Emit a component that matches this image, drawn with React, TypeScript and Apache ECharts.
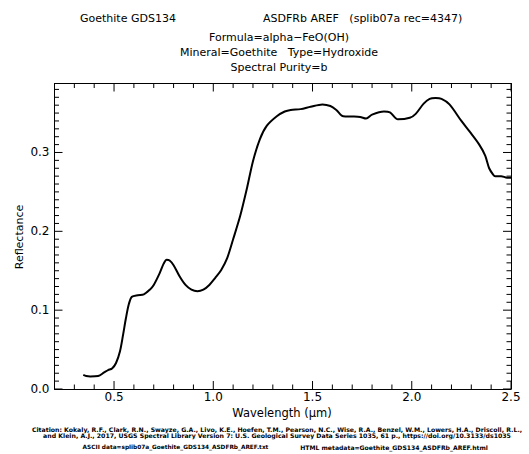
import React, { useEffect, useRef } from "react";
import * as echarts from "echarts";

const wavelengths = [
  0.345, 0.36, 0.38, 0.42, 0.45, 0.47, 0.49, 0.51, 0.53, 0.545, 0.56, 0.575, 0.59,
  0.62, 0.65, 0.68, 0.7, 0.73, 0.75, 0.765, 0.78, 0.8, 0.83, 0.86, 0.89, 0.92,
  0.95, 0.98, 1.01, 1.04, 1.07, 1.1, 1.135, 1.17, 1.2, 1.235, 1.27, 1.32, 1.36,
  1.39, 1.44, 1.49, 1.55, 1.59, 1.62, 1.655, 1.7, 1.74, 1.77, 1.8, 1.86, 1.89,
  1.93, 1.99, 2.02, 2.06, 2.09, 2.12, 2.15, 2.19, 2.25, 2.29, 2.34, 2.37, 2.39,
  2.41, 2.42, 2.45, 2.48, 2.5,
];
const reflectance = [
  0.018, 0.0165, 0.016, 0.0165, 0.021, 0.024, 0.026, 0.033, 0.048, 0.068, 0.09,
  0.108, 0.117, 0.119, 0.12, 0.126, 0.132, 0.147, 0.159, 0.164, 0.163, 0.157,
  0.143, 0.132, 0.126, 0.124, 0.126, 0.132, 0.141, 0.151, 0.166, 0.19, 0.219,
  0.255, 0.289, 0.317, 0.334, 0.346, 0.352, 0.354, 0.355, 0.358, 0.361, 0.359,
  0.354, 0.346, 0.3456, 0.345, 0.343, 0.348, 0.352, 0.351, 0.342, 0.344, 0.349,
  0.362, 0.368, 0.369, 0.368, 0.361, 0.34, 0.327, 0.31, 0.296, 0.28, 0.272, 0.27,
  0.27, 0.268, 0.268,
];

const xMajorTicks = [0.5, 1.0, 1.5, 2.0, 2.5];
const xMinorTicks = [
  0.3, 0.4, 0.6, 0.7, 0.8, 0.9, 1.1, 1.2, 1.3, 1.4, 1.6, 1.7, 1.8, 1.9, 2.1, 2.2,
  2.3, 2.4,
];
const yMajorTicks = [0.0, 0.1, 0.2, 0.3];
const yMinorTicks = [
  0.01, 0.02, 0.03, 0.04, 0.05, 0.06, 0.07, 0.08, 0.09, 0.11, 0.12, 0.13, 0.14,
  0.15, 0.16, 0.17, 0.18, 0.19, 0.21, 0.22, 0.23, 0.24, 0.25, 0.26, 0.27, 0.28,
  0.29, 0.31, 0.32, 0.33, 0.34, 0.35, 0.36, 0.37, 0.38,
];

const titleLeft = "Goethite GDS134";
const titleRight = "ASDFRb AREF   (splib07a rec=4347)";
const subtitleLines = [
  "Formula=alpha\u2212FeO(OH)",
  "Mineral=Goethite   Type=Hydroxide",
  "Spectral Purity=b",
];
const citationLines = [
  "Citation: Kokaly, R.F., Clark, R.N., Swayze, G.A., Livo, K.E., Hoefen, T.M., Pearson, N.C., Wise, R.A., Benzel, W.M., Lowers, H.A., Driscoll, R.L.,",
  "and Klein, A.J., 2017, USGS Spectral Library Version 7: U.S. Geological Survey Data Series 1035, 61 p., https://doi.org/10.3133/ds1035",
];
const asciiText = "ASCII data=splib07a_Goethite_GDS134_ASDFRb_AREF.txt";
const htmlText = "HTML metadata=Goethite_GDS134_ASDFRb_AREF.html";

const X_MIN = 0.2;
const X_MAX = 2.5;
const Y_MIN = 0;
const Y_MAX = 0.3875;
const MAJOR_LEN = 8;
const MINOR_LEN = 4.5;

const FONT = "DejaVu Sans";

export default function App() {
  const ref = useRef<HTMLDivElement>(null);
  useEffect(() => {
    document.body.style.margin = "0";
    if (!ref.current) return;
    const chart = echarts.init(ref.current, null, { renderer: "svg" });
    const axisLineStyle = { color: "#000", width: 1 };
    const tickStyle = { stroke: "#000", lineWidth: 1 };

    const xTickData = [
      ...xMajorTicks.map((v) => [v, Y_MIN, MAJOR_LEN]),
      ...xMinorTicks.map((v) => [v, Y_MIN, MINOR_LEN]),
    ];
    const yTickData = [
      ...yMajorTicks.map((v) => [X_MIN, v, MAJOR_LEN]),
      ...yMinorTicks.map((v) => [X_MIN, v, MINOR_LEN]),
    ];

    const option: any = {
      animation: false,
      backgroundColor: "#fff",
      grid: { left: 54.5, right: 18, top: 83.5, bottom: 65, containLabel: false },
      xAxis: [
        {
          type: "value",
          position: "bottom",
          min: X_MIN,
          max: X_MAX,
          interval: 0.1,
          splitLine: { show: false },
          axisLine: { show: true, onZero: false, lineStyle: axisLineStyle },
          axisTick: { show: false },
          axisLabel: {
            show: true,
            customValues: xMajorTicks,
            formatter: (v: number) => v.toFixed(1),
            color: "#000",
            fontFamily: FONT,
            fontSize: 12,
            margin: 2,
          },
        },
        {
          type: "value",
          position: "top",
          min: X_MIN,
          max: X_MAX,
          interval: 0.1,
          splitLine: { show: false },
          axisLine: { show: true, onZero: false, lineStyle: axisLineStyle },
          axisTick: { show: false },
          axisLabel: { show: false },
        },
      ],
      yAxis: [
        {
          type: "value",
          position: "left",
          min: Y_MIN,
          max: Y_MAX,
          interval: 0.01,
          splitLine: { show: false },
          axisLine: { show: true, onZero: false, lineStyle: axisLineStyle },
          axisTick: { show: false },
          axisLabel: {
            show: true,
            customValues: yMajorTicks,
            formatter: (v: number) => v.toFixed(1),
            color: "#000",
            fontFamily: FONT,
            fontSize: 12,
            margin: 5,
          },
        },
        {
          type: "value",
          position: "right",
          min: Y_MIN,
          max: Y_MAX,
          interval: 0.01,
          splitLine: { show: false },
          axisLine: { show: true, onZero: false, lineStyle: axisLineStyle },
          axisTick: { show: false },
          axisLabel: { show: false },
        },
      ],
      series: [
        {
          type: "line",
          xAxisIndex: 0,
          yAxisIndex: 0,
          data: wavelengths.map((w, i) => [w, reflectance[i]]),
          showSymbol: false,
          symbol: "none",
          smooth: 0.3,
          lineStyle: { color: "#000", width: 2 },
          z: 3,
        },
        {
          type: "custom",
          xAxisIndex: 0,
          yAxisIndex: 0,
          clip: false,
          silent: true,
          data: xTickData,
          renderItem: (_params: any, api: any) => {
            const v = api.value(0);
            const len = api.value(2);
            const b = api.coord([v, Y_MIN]);
            const t = api.coord([v, Y_MAX]);
            return {
              type: "group",
              children: [
                { type: "line", shape: { x1: b[0], y1: b[1], x2: b[0], y2: b[1] - len }, style: tickStyle },
                { type: "line", shape: { x1: t[0], y1: t[1], x2: t[0], y2: t[1] + len }, style: tickStyle },
              ],
            };
          },
        },
        {
          type: "custom",
          xAxisIndex: 0,
          yAxisIndex: 0,
          clip: false,
          silent: true,
          data: yTickData,
          renderItem: (_params: any, api: any) => {
            const v = api.value(1);
            const len = api.value(2);
            const l = api.coord([X_MIN, v]);
            const r = api.coord([X_MAX, v]);
            return {
              type: "group",
              children: [
                { type: "line", shape: { x1: l[0], y1: l[1], x2: l[0] + len, y2: l[1] }, style: tickStyle },
                { type: "line", shape: { x1: r[0], y1: r[1], x2: r[0] - len, y2: r[1] }, style: tickStyle },
              ],
            };
          },
        },
      ],
      graphic: [
        { type: "text", left: 80, top: 13, style: { text: titleLeft, font: `11px '${FONT}'`, fill: "#000" } },
        { type: "text", left: 263, top: 13, style: { text: titleRight, font: `11px '${FONT}'`, fill: "#000" } },
        ...subtitleLines.map((t, i) => ({
          type: "text",
          x: 279,
          y: 37 + i * 15,
          style: { text: t, font: `11px '${FONT}'`, fill: "#000", textAlign: "center", textVerticalAlign: "middle" },
        })),
        {
          type: "text",
          x: 19,
          y: 237,
          rotation: Math.PI / 2,
          style: { text: "Reflectance", font: `11px '${FONT}'`, fill: "#000", textAlign: "center", textVerticalAlign: "middle" },
        },
        {
          type: "text",
          x: 282,
          y: 413,
          style: { text: "Wavelength (\u03bcm)", font: `11.5px '${FONT}'`, fill: "#000", textAlign: "center", textVerticalAlign: "middle" },
        },
        ...citationLines.map((t, i) => ({
          type: "text",
          x: 277,
          y: 429 + i * 6.5,
          style: { text: t, font: `bold 6.2px '${FONT}'`, fill: "#000", textAlign: "center", textVerticalAlign: "middle" },
        })),
        {
          type: "text",
          x: 175.5,
          y: 447,
          style: { text: asciiText, font: `bold 5.8px '${FONT}'`, fill: "#000", textAlign: "center", textVerticalAlign: "middle" },
        },
        {
          type: "text",
          x: 394,
          y: 447,
          style: { text: htmlText, font: `bold 6.1px '${FONT}'`, fill: "#000", textAlign: "center", textVerticalAlign: "middle" },
        },
      ],
    };
    chart.setOption(option);
    return () => chart.dispose();
  }, []);
  return <div ref={ref} style={{ width: 529, height: 454 }} />;
}
